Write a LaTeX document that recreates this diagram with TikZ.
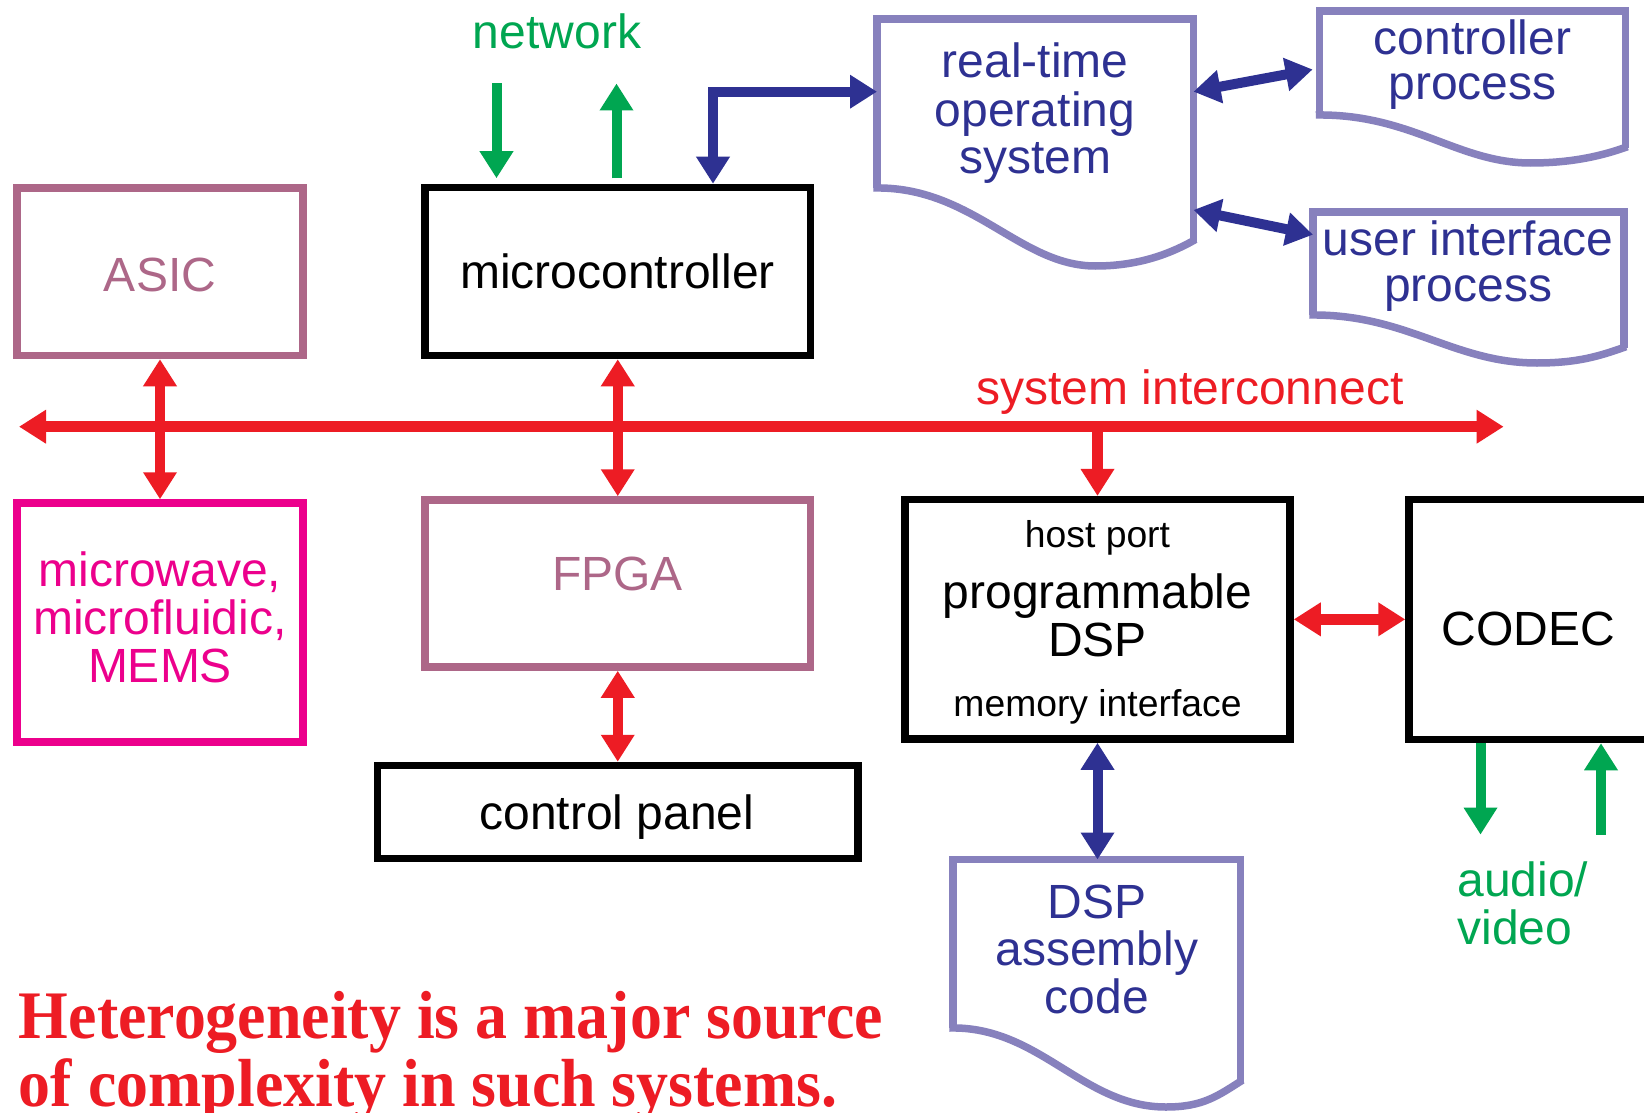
\documentclass[tikz,border=0pt]{standalone}
\usepackage{fontspec}
\setmainfont{Liberation Sans}
\newfontfamily\notefont{Liberation Serif}[FakeStretch=0.94]
\usetikzlibrary{arrows.meta,calc}

\definecolor{busred}{HTML}{ED1C24}
\definecolor{netgreen}{HTML}{00A651}
\definecolor{swnavy}{HTML}{2E3192}
\definecolor{doclav}{HTML}{8781BD}
\definecolor{hwmauve}{HTML}{AD6788}
\definecolor{hotpink}{HTML}{EC008C}

% document shape: rectangle part as a node, wavy bottom drawn below it
% #1 name, #2 left, #3 top, #4 right, #5 bottom of left side, #6 wave depth, #7 valley position
\newcommand{\docshape}[7]{%
  \node[docarea, minimum width={#4-#2}, minimum height={#5-#3}] (#1)
    at ({(#2+#4)/2},{(#3+#5)/2}) {};
  \draw[docline] (#2,#5) -- (#2,#3) -- (#4,#3) -- (#4,{#5+0.69*#6});
  \draw[docline] ({#2-3.75},#5)
    .. controls ({#2+0.3*(#4-#2)},{#5-0.03*#6}) and ({#2+0.45*(#4-#2)},{#5+#6})
    .. ({#2+#7*(#4-#2)},{#5+#6})
    .. controls ({#2+(#7+0.13)*(#4-#2)},{#5+#6}) and ({#4-0.08*(#4-#2)},{#5+0.86*#6})
    .. ({#4+2},{#5+0.66*#6});
}

\begin{document}
\begin{tikzpicture}[x=1pt,y=-1pt,
  every node/.style={inner sep=0pt,outer sep=0pt},
  txt/.style={anchor=base,font=\fontsize{48}{48}\selectfont},
  smalltxt/.style={anchor=base,font=\fontsize{37.3}{40}\selectfont},
  box/.style={draw,rectangle,line width=7.5pt,outer sep=3.75pt},
  docarea/.style={rectangle,draw=none},
  docline/.style={draw=doclav,line width=7.5pt},
  >={Triangle[width=32pt,length=27pt]},
  bus/.style={draw=busred,line width=10.5pt},
  ctl/.style={draw=swnavy,line width=10pt},
  sig/.style={draw=netgreen,line width=10pt},
]
\useasboundingbox (0,0) rectangle (1644,1113);
\fill[white] (0,0) rectangle (1644,1113);
\clip (0,0) rectangle (1644,1113);

% hardware blocks
\node[box,draw=hwmauve,minimum width=286,minimum height=167.5] (asic) at (160,271.75) {};
\node[box,draw=black,minimum width=385.5,minimum height=168] (mc) at (617.75,271.5) {};
\node[box,draw=hotpink,minimum width=286,minimum height=239] (mw) at (160,622.5) {};
\node[box,draw=hwmauve,minimum width=385.5,minimum height=167] (fpga) at (617.75,583.5) {};
\node[box,draw=black,minimum width=480.5,minimum height=93] (cp) at (617.75,812) {};
\node[box,draw=black,minimum width=385,minimum height=239.3] (dsp) at (1097.5,619.35) {};
\node[box,draw=black,minimum width=243,minimum height=240] (codec) at (1530.5,619.5) {};

% software documents
\docshape{rtos}{877}{19}{1193.5}{188}{78}{0.69}
\docshape{ctlp}{1319.5}{11}{1625.5}{115}{48}{0.69}
\docshape{uip}{1313}{212}{1624}{315}{48}{0.72}
\docshape{asm}{953}{859.5}{1240.5}{1028}{79}{0.74}

% labels
\node[txt,text=netgreen] (net-t) at (557,48.3) {network};
\node[txt] (mc-t) at (617.5,288.5) {microcontroller};
\node[txt,text=hwmauve] (asic-t) at (160,291.5) {ASIC};
\node[txt,text=hwmauve] (fpga-t) at (617.6,590.5) {FPGA};
\node[txt,text=hotpink] (mw-t1) at (160,586.7) {microwave,};
\node[txt,text=hotpink] (mw-t2) at (160,634.3) {microfluidic,};
\node[txt,text=hotpink] (mw-t3) at (160,682.7) {MEMS};
\node[txt] (cp-t) at (617,829) {control panel};
\node[smalltxt] (dsp-t1) at (1097.5,547) {host port};
\node[txt] (dsp-t2) at (1097.5,608) {programmable};
\node[txt] (dsp-t3) at (1097.5,656.7) {DSP};
\node[smalltxt] (dsp-t4) at (1097.5,716.7) {memory interface};
\node[txt] (codec-t) at (1528,645.7) {CODEC};
\node[txt,text=swnavy] (rtos-t1) at (1035,78) {real-time};
\node[txt,text=swnavy] (rtos-t2) at (1035,126.7) {operating};
\node[txt,text=swnavy] (rtos-t3) at (1035,173) {system};
\node[txt,text=swnavy] (ctlp-t1) at (1472.5,54.3) {controller};
\node[txt,text=swnavy] (ctlp-t2) at (1472.5,100) {process};
\node[txt,text=swnavy] (uip-t1) at (1468.3,255) {user interface};
\node[txt,text=swnavy] (uip-t2) at (1468.3,301.7) {process};
\node[txt,text=swnavy] (asm-t1) at (1096.7,918.3) {DSP};
\node[txt,text=swnavy] (asm-t2) at (1096.7,965) {assembly};
\node[txt,text=swnavy] (asm-t3) at (1096.7,1013.3) {code};
\node[txt,text=busred] (bus-t) at (1190,404) {system interconnect};
\node[txt,anchor=base west,text=netgreen] (av-t1) at (1457.4,896.5) {audio/};
\node[txt,anchor=base west,text=netgreen] (av-t2) at (1457.4,944.7) {video};
\node[anchor=base west,text=busred,font=\notefont\bfseries\fontsize{68}{68}\selectfont]
  (note1) at (19,1038) {Heterogeneity is a major source};
\node[anchor=base west,text=busred,font=\notefont\bfseries\fontsize{68}{68}\selectfont]
  (note2) at (19,1106) {of complexity in such systems.};

% system interconnect
\coordinate (busL) at (19,426.7);
\coordinate (busR) at (1503.6,426.7);
\draw[bus,<->] (busL) -- (busR);
\draw[bus,<->] (asic.south) -- (mw.north);
\draw[bus,<->] (mc.south) -- (fpga.north);
\draw[bus,<->] (fpga.south) -- (cp.north);
\draw[bus,->] (busL -| dsp.north) -- (dsp.north);
\draw[bus,<->] (dsp.east) -- (dsp.east -| codec.west);

% network and audio/video signals
\coordinate (netin) at (496.5,83.5);
\coordinate (netout) at (616.5,83.5);
\draw[sig,->] (netin) -- ($(mc.north -| netin)+(0,-5.5)$);
\draw[sig,->] ($(mc.north -| netout)+(0,-5.5)$) -- (netout);
\coordinate (avout) at (1480.5,834.6);
\coordinate (avin) at (1601,834.6);
\draw[sig,->] (codec.south -| avout) -- (avout);
\draw[sig,->] (avin) -- (codec.south -| avin);

% software links
\coordinate (osbend) at (713,91.7);
\draw[ctl,<->] (mc.north -| osbend) |- (rtos.west |- osbend);
\draw[ctl,<->,shorten >=7pt] ($(rtos.north east)!0.43!(rtos.south east)$)
  -- ($(ctlp.north west)!0.55!(ctlp.south west)$);
\draw[ctl,<->] ($(rtos.north east)!1.13!(rtos.south east)$)
  -- ($(uip.north west)!0.22!(uip.south west)$);
\draw[ctl,<->] (dsp.south) -- (dsp.south |- asm.north);
\end{tikzpicture}
\end{document}
